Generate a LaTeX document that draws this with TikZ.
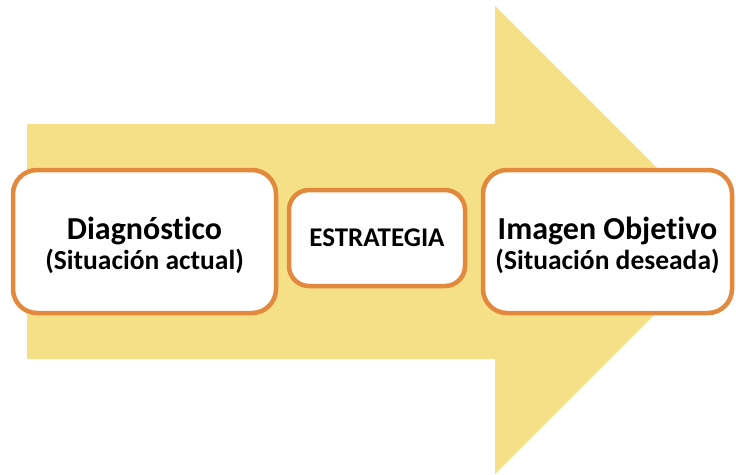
\documentclass[tikz,border=0pt]{standalone}
\usepackage{fontspec}
\setmainfont{Carlito}[Ligatures=NoCommon]
\definecolor{arrowyellow}{RGB}{245,224,135}
\definecolor{boxorange}{RGB}{226,137,62}
\begin{document}
\begin{tikzpicture}[x=1pt,y=-1pt,
  stagebox/.style={draw=boxorange, line width=4.5pt, fill=white, rounded corners=24pt,
    align=center, inner sep=0pt, font=\bfseries},
  stagetext/.style={align=center, inner sep=0pt, font=\bfseries, yshift=-4pt},
]
\useasboundingbox (0,0) rectangle (736,474);
% big arrow
\fill[arrowyellow] (27,124) -- (495,124) -- (495,6) -- (729,240) -- (495,474) -- (495,359) -- (27,359) -- cycle;
% boxes
\node[stagebox, minimum width=263pt, minimum height=143pt,
  label={[stagetext]center:{{\fontsize{32}{32}\selectfont Diagnóstico}\\[3pt]{\fontsize{27.5}{32}\selectfont (Situación actual)}}}] (diag) at (144.5,241.5) {};
\node[stagebox, rounded corners=20pt, minimum width=176pt, minimum height=96pt] (estr) at (377,238)
  {{\fontsize{27}{32}\selectfont ESTRATEGIA}};
\node[stagebox, minimum width=249pt, minimum height=143pt,
  label={[stagetext]center:{{\fontsize{32}{32}\selectfont Imagen Objetivo}\\[3pt]{\fontsize{27.5}{32}\selectfont (Situación deseada)}}}] (imag) at (607.5,241.5) {};
\end{tikzpicture}
\end{document}
